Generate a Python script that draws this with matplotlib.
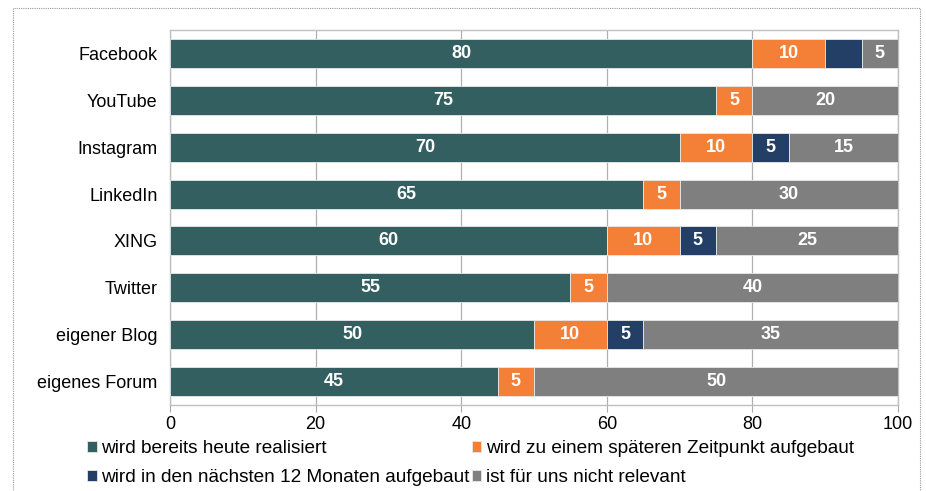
import numpy as np
import matplotlib.pyplot as plt
from matplotlib.patches import Rectangle

plt.rcParams['font.family'] = ['Liberation Sans', 'DejaVu Sans']

# data
kanaele = ['Facebook', 'YouTube', 'Instagram', 'LinkedIn', 'XING', 'Twitter',
           'eigener Blog', 'eigenes Forum']
realisiert = [80, 75, 70, 65, 60, 55, 50, 45]
spaeter = [10, 5, 10, 5, 10, 5, 10, 5]
naechste12 = [5, 0, 5, 0, 5, 0, 5, 0]
nicht_relevant = [5, 20, 15, 30, 25, 40, 35, 50]
serien = ['wird bereits heute realisiert',
          'wird zu einem späteren Zeitpunkt aufgebaut',
          'wird in den nächsten 12 Monaten aufgebaut',
          'ist für uns nicht relevant']
farben = ['#335F60', '#F47F36', '#243F66', '#7F7F7F']

fs = 13
fig = plt.figure(figsize=(9.26, 4.91), dpi=100)
ax = fig.add_axes([0.1836, 0.175, 0.7862, 0.764])

y = np.arange(len(kanaele))
links = np.zeros(len(kanaele))
bars = []
for werte, name, farbe in zip([realisiert, spaeter, naechste12, nicht_relevant], serien, farben):
    werte = np.array(werte)
    b = ax.barh(y, werte, left=links, height=0.62, color=farbe,
                edgecolor='#e8e8e8', linewidth=0.6, label=name, zorder=3)
    bars.append(b)
    for yi, (l, w) in enumerate(zip(links, werte)):
        if w > 0 and not (farbe == '#243F66' and yi == 0):
            ax.text(l + w / 2, yi, str(w), ha='center', va='center',
                    color='white', fontsize=fs, fontweight='bold', zorder=4)
    links = links + werte

ax.set_xlim(0, 100)
ax.set_ylim(7.5, -0.5)
ax.set_yticks(y)
ax.set_yticklabels(kanaele, fontsize=fs)
ax.set_xticks([0, 20, 40, 60, 80, 100])
ax.tick_params(axis='x', labelsize=fs, length=5, color='#aaaaaa', pad=3)
ax.tick_params(axis='y', length=0, pad=9)
ax.grid(axis='x', color='#b0b0b0', linewidth=0.9, zorder=0)
for s in ax.spines.values():
    s.set_color('#c0c0c0')
    s.set_linewidth(1)

handles = [bars[0], bars[2], bars[1], bars[3]]
labels = [serien[0], serien[2], serien[1], serien[3]]
fig.legend(handles, labels, ncol=2, loc='upper left', bbox_to_anchor=(0.094, 0.103),
           frameon=False, fontsize=13.7, handlelength=0.5, handleheight=0.5,
           handletextpad=0.25, columnspacing=0.1, labelspacing=0.6,
           borderaxespad=0, borderpad=0)

# Rahmen um die Grafik
fig.patches.append(Rectangle((0.014, -0.01), 0.979, 0.994, transform=fig.transFigure,
                             fill=False, edgecolor='#999999', linewidth=0.8,
                             linestyle=(0, (1, 1))))

fig.savefig('out.png', dpi=100)
